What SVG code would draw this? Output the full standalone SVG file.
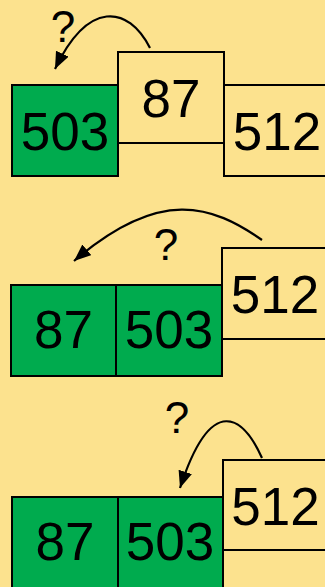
<svg xmlns="http://www.w3.org/2000/svg" width="325" height="587" viewBox="0 0 325 587">
<defs>
<style>
.bg{fill:#FCE28E}
.g{fill:#00AB4E;stroke:#000;stroke-width:2}
.y{fill:#FCE28E;stroke:#000;stroke-width:2}
.t{font-family:"Liberation Sans",Arial,sans-serif;font-size:53px;fill:#000;text-anchor:middle}
.q{font-family:"Liberation Sans",Arial,sans-serif;font-size:44px;fill:#000;text-anchor:middle}
.c{fill:none;stroke:#000;stroke-width:2.2}
</style>
<marker id="ah" markerUnits="userSpaceOnUse" markerWidth="20" markerHeight="16" refX="17" refY="7" orient="auto">
<path d="M0,0 L17,7 L0,14 Z" fill="#000"/>
</marker>
</defs>
<rect class="bg" x="0" y="0" width="325" height="587"/>
<g id="panel1">
<g id="p1-503"><rect class="g" x="12" y="85" width="106" height="91"/><text class="t" x="65" y="150">503</text></g>
<g id="p1-512"><rect class="y" x="224" y="85" width="106" height="91"/><text class="t" x="277" y="150">512</text></g>
<g id="p1-87"><rect class="y" x="118" y="52" width="106" height="91"/><text class="t" x="171" y="117">87</text></g>
<text class="q" x="63" y="42">?</text>
</g>
<g id="panel2">
<g id="p2-87"><rect class="g" x="11" y="285" width="105" height="91"/><text class="t" x="63.5" y="348">87</text></g>
<g id="p2-503"><rect class="g" x="116" y="285" width="106" height="91"/><text class="t" x="169" y="348">503</text></g>
<g id="p2-512"><rect class="y" x="222" y="248" width="106" height="91"/><text class="t" x="275" y="313">512</text></g>
<text class="q" x="166" y="260">?</text>
</g>
<g id="panel3">
<g id="p3-87"><rect class="g" x="12" y="497" width="106" height="91"/><text class="t" x="65" y="560">87</text></g>
<g id="p3-503"><rect class="g" x="118" y="497" width="105" height="91"/><text class="t" x="170" y="560">503</text></g>
<g id="p3-512"><rect class="y" x="223" y="460" width="106" height="90"/><text class="t" x="275.5" y="525">512</text></g>
<text class="q" x="177" y="433">?</text>
</g>
<g id="connectors">
<path class="c" d="M150,48 C128,5 88,0 55,69" marker-end="url(#ah)"/>
<path class="c" d="M262,240 C212,205 160,187 74,261" marker-end="url(#ah)"/>
<path class="c" d="M262,458 C244,418 212,390 180,488" marker-end="url(#ah)"/>
</g>
</svg>
